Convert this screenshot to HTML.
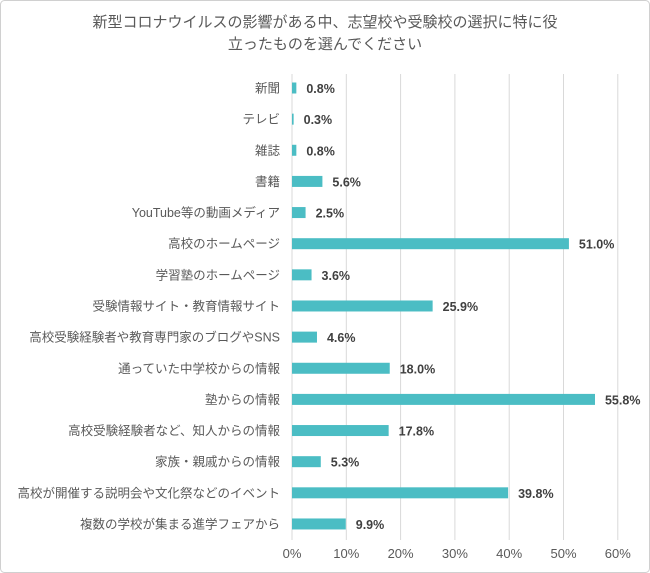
<!DOCTYPE html>
<html><head><meta charset="utf-8"><style>
body{margin:0;background:#fff;}
svg{display:block;font-family:"Liberation Sans","Noto Sans CJK JP",sans-serif;}
</style></head><body>
<svg id="chart" width="650" height="573">
<rect x="0.5" y="0.5" width="649" height="572" rx="4" fill="#fff" stroke="#d0d0d0"/>
<text x="325" y="27" text-anchor="middle" font-size="15" fill="#595959">新型コロナウイルスの影響がある中、志望校や受験校の選択に特に役</text>
<text x="325" y="49" text-anchor="middle" font-size="15" fill="#595959">立ったものを選んでください</text>
<g id="grid"></g><g id="bars"></g>
</svg>
<script>
const categories=["新聞","テレビ","雑誌","書籍","YouTube等の動画メディア","高校のホームページ","学習塾のホームページ","受験情報サイト・教育情報サイト","高校受験経験者や教育専門家のブログやSNS","通っていた中学校からの情報","塾からの情報","高校受験経験者など、知人からの情報","家族・親戚からの情報","高校が開催する説明会や文化祭などのイベント","複数の学校が集まる進学フェアから"];
const values=[0.8,0.3,0.8,5.6,2.5,51.0,3.6,25.9,4.6,18.0,55.8,17.8,5.3,39.8,9.9];
const ticks=[0,10,20,30,40,50,60];
const NS="http://www.w3.org/2000/svg";
const x=v=>292+v*5.43;
const y=i=>88+i*31.14;
function mk(t,a,p){const e=document.createElementNS(NS,t);for(const k in a)e.setAttribute(k,a[k]);p.appendChild(e);return e;}
const g=document.getElementById('grid'),b=document.getElementById('bars');
ticks.forEach(t=>{
 const l=mk('line',{x1:x(t),x2:x(t),y1:74,y2:540,stroke:'#d9d9d9','stroke-width':1},g);
 
 
 const tx=mk('text',{x:x(t),y:558,'text-anchor':'middle','font-size':13,fill:'#595959'},g);
 tx.textContent=t+'%';
 
 
});
categories.forEach((c,i)=>{
 const cy=y(i);
 const lab=mk('text',{x:280,y:cy+4.5,'text-anchor':'end','font-size':12.5,fill:'#595959'},b);
 lab.textContent=c;
 
 
 const r=mk('rect',{x:x(0),y:cy-5.5,width:Math.max(values[i]*5.43,1.5),height:11,fill:'#4bbdc4'},b);
 
 
 const v=mk('text',{x:x(values[i])+10,y:cy+5,'font-size':12.5,'font-weight':'bold',fill:'#404040'},b);
 v.textContent=values[i].toFixed(1)+'%';
 
 
});
</script>
</body></html>
